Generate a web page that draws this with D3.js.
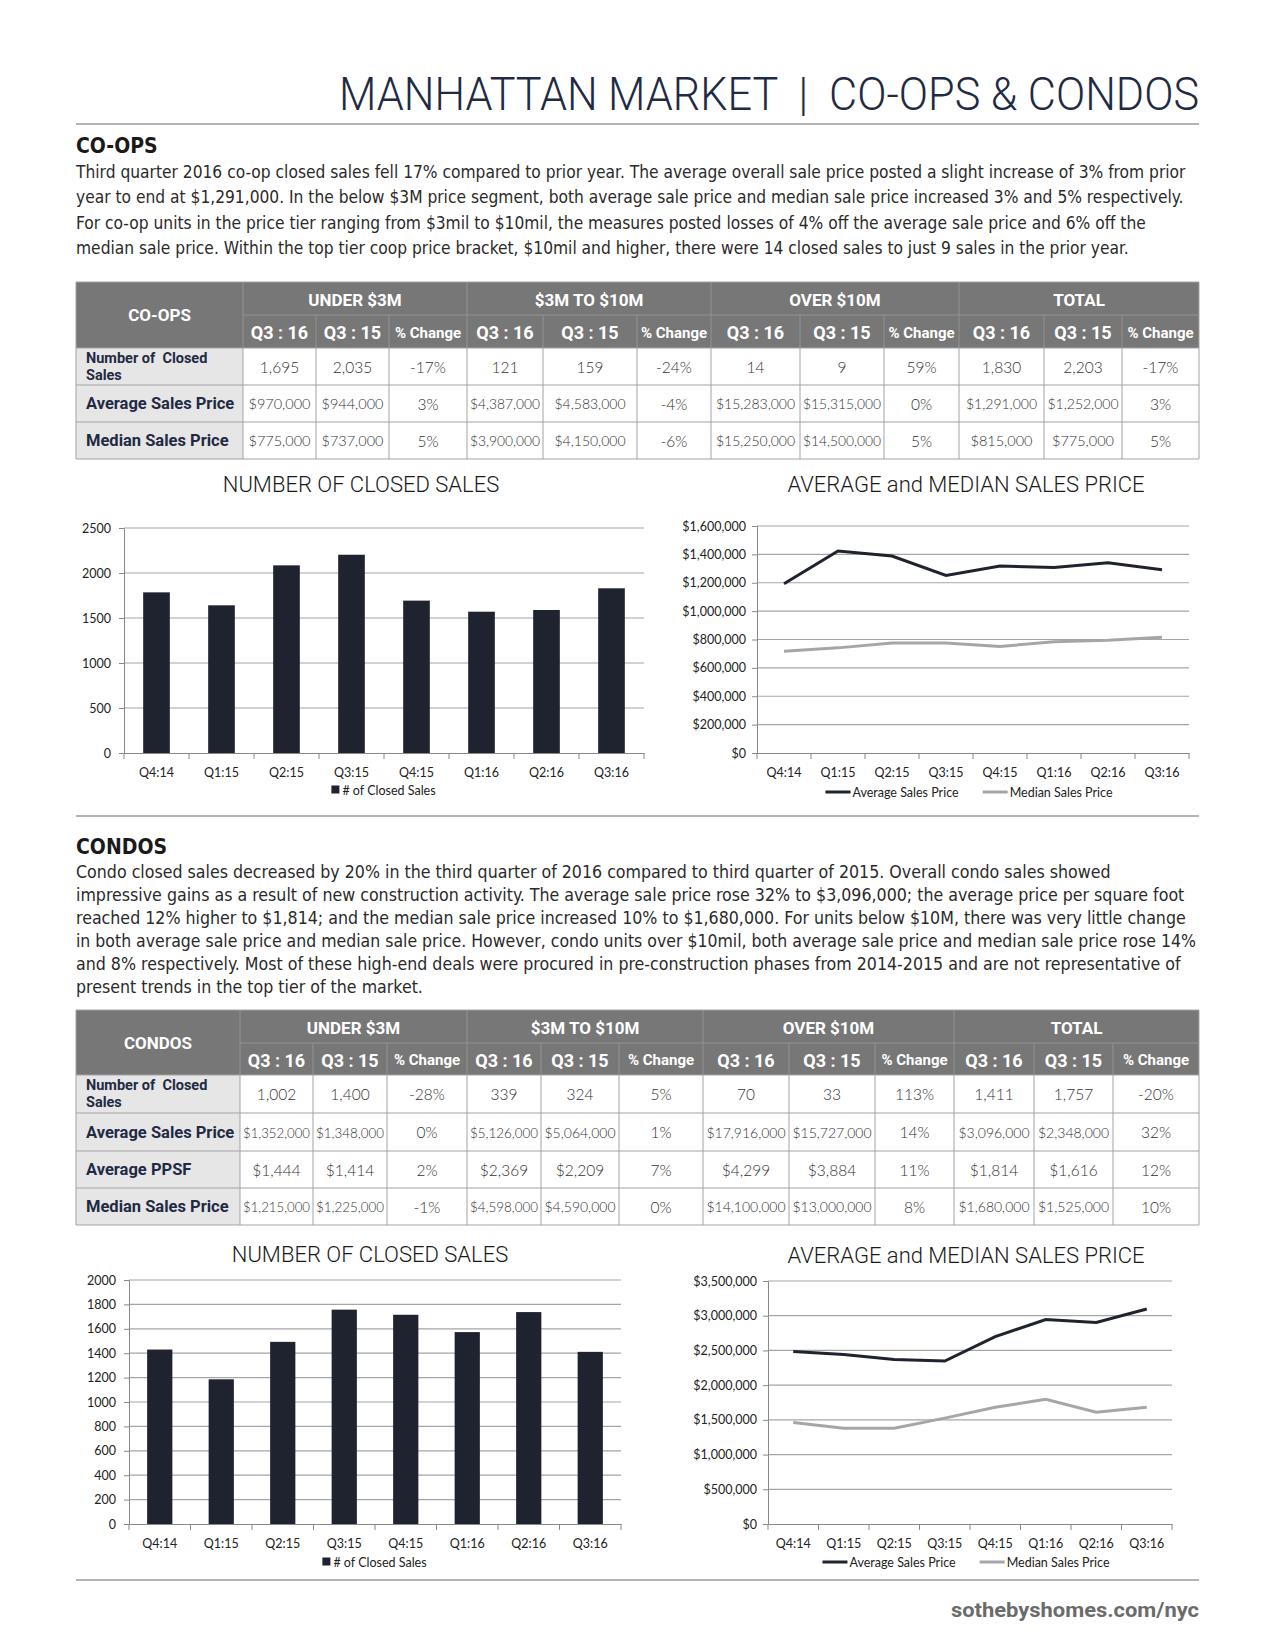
<!DOCTYPE html>
<html><head><meta charset="utf-8">
<script src="https://cdn.jsdelivr.net/npm/d3@7"></script>
<style>body{margin:0;background:#fff} svg{display:block}</style>
</head><body><svg id="page" width="1275" height="1650"></svg>
<script>
// ---------------- DATA ----------------
const pageTitle = "MANHATTAN MARKET  |  CO-OPS & CONDOS";
const footerText = "sothebyshomes.com/nyc";
const quarters = ["Q4:14","Q1:15","Q2:15","Q3:15","Q4:15","Q1:16","Q2:16","Q3:16"];

const coopClosedSales = [1785,1641,2085,2203,1693,1570,1589,1830];
const coopAvgPrice    = [1193000,1424000,1388000,1252000,1318000,1308000,1341000,1291000];
const coopMedianPrice = [718000,741000,776000,775000,751000,784000,795000,815000];

const condoClosedSales = [1430,1186,1493,1757,1715,1573,1737,1411];
const condoAvgPrice    = [2483000,2440000,2369000,2348000,2698000,2946000,2904000,3096000];
const condoMedianPrice = [1461000,1380000,1380000,1525000,1681000,1796000,1609000,1680000];

const coopBarTicks   = [0,500,1000,1500,2000,2500];
const coopPriceTicks = [0,200000,400000,600000,800000,1000000,1200000,1400000,1600000];
const condoBarTicks  = [0,200,400,600,800,1000,1200,1400,1600,1800,2000];
const condoPriceTicks= [0,500000,1000000,1500000,2000000,2500000,3000000,3500000];

const barChartTitle  = "NUMBER OF CLOSED SALES";
const lineChartTitle = "AVERAGE and MEDIAN SALES PRICE";
const barLegend      = "# of Closed Sales";
const lineLegend     = ["Average Sales Price","Median Sales Price"];

const tableGroups   = ["UNDER $3M","$3M TO $10M","OVER $10M","TOTAL"];
const tableSubHeads = ["Q3 : 16","Q3 : 15","% Change"];

const coopHeading = "CO-OPS";
const coopRowLabels = [["Number of  Closed","Sales"],["Average Sales Price"],["Median Sales Price"]];
const coopRows = [
  ["1,695","2,035","-17%","121","159","-24%","14","9","59%","1,830","2,203","-17%"],
  ["$970,000","$944,000","3%","$4,387,000","$4,583,000","-4%","$15,283,000","$15,315,000","0%","$1,291,000","$1,252,000","3%"],
  ["$775,000","$737,000","5%","$3,900,000","$4,150,000","-6%","$15,250,000","$14,500,000","5%","$815,000","$775,000","5%"]
];
const coopParagraph = [
  "Third quarter 2016 co-op closed sales fell 17% compared to prior year. The average overall sale price posted a slight increase of 3% from prior",
  "year to end at $1,291,000.  In the below $3M price segment, both average sale price and median sale price increased 3% and 5% respectively.",
  "For co-op units in the price tier ranging from $3mil to $10mil, the measures posted losses of 4% off the average sale price and 6% off the",
  "median sale price. Within the top tier coop price bracket, $10mil and higher, there were 14 closed sales to just 9 sales in the prior year."
];

const condoHeading = "CONDOS";
const condoRowLabels = [["Number of  Closed","Sales"],["Average Sales Price"],["Average PPSF"],["Median Sales Price"]];
const condoRows = [
  ["1,002","1,400","-28%","339","324","5%","70","33","113%","1,411","1,757","-20%"],
  ["$1,352,000","$1,348,000","0%","$5,126,000","$5,064,000","1%","$17,916,000","$15,727,000","14%","$3,096,000","$2,348,000","32%"],
  ["$1,444","$1,414","2%","$2,369","$2,209","7%","$4,299","$3,884","11%","$1,814","$1,616","12%"],
  ["$1,215,000","$1,225,000","-1%","$4,598,000","$4,590,000","0%","$14,100,000","$13,000,000","8%","$1,680,000","$1,525,000","10%"]
];
const condoParagraph = [
  "Condo closed sales decreased by 20% in the third quarter of 2016 compared to third quarter of 2015. Overall condo sales showed",
  "impressive gains as a result of new construction activity. The average sale price rose 32% to $3,096,000; the average price per square foot",
  "reached 12% higher to $1,814; and the median sale price increased 10% to $1,680,000. For units below $10M, there was very little change",
  "in both average sale price and median sale price. However, condo units over $10mil, both average sale price and median sale price rose 14%",
  "and 8% respectively. Most of these high-end deals were procured in pre-construction phases from 2014-2015 and are not representative of",
  "present trends in the top tier of the market."
];

// ---------------- STYLE / LAYOUT ----------------
const NAVY = "#1f2a44";
const BAR = "#1f2330";
const MED = "#a6a6a6";
const NARROW = "'Liberation Sans Narrow','DejaVu Sans Condensed',Roboto,sans-serif";
const CHARTF = "Lato,'Open Sans',sans-serif";
const TABLEB = "Roboto,'Liberation Sans',sans-serif";
const TABLEV = "Lato,'Open Sans',sans-serif";

const svg = d3.select("#page");

function fitWidth(sel, w){
  sel.attr("textLength", w).attr("lengthAdjust","spacingAndGlyphs");
}
function shrink(sel, maxW){
  sel.each(function(){
    const l = this.getComputedTextLength();
    if (l > maxW) d3.select(this).attr("textLength", maxW).attr("lengthAdjust","spacingAndGlyphs");
  });
}

// ---------- Title ----------
const t = svg.append("text").attr("x",339).attr("y",110)
  .attr("font-family","Roboto,'Open Sans',sans-serif").attr("font-weight",300)
  .attr("font-size",46).attr("fill",NAVY).attr("xml:space","preserve").text(pageTitle);
fitWidth(t, 860);
svg.append("line").attr("x1",76).attr("x2",1199).attr("y1",124).attr("y2",124)
  .attr("stroke","#9a9a9a").attr("stroke-width",1.5);

// ---------- paragraphs ----------
function paragraph(heading, lines, headY, firstY, step, refIdx, refW){
  svg.append("text").attr("x",76).attr("y",headY).attr("font-family",NARROW)
    .attr("font-weight","bold").attr("font-size",21).attr("fill","#1a1a1a").text(heading);
  const g = svg.append("g").attr("font-family",NARROW).attr("fill","#2a2a2a");
  const txt = g.selectAll("text").data(lines).join("text")
    .attr("x",76).attr("y",(d,i)=>firstY+i*step).attr("font-size",18).text(d=>d);
  const nat = txt.nodes()[refIdx].getComputedTextLength();
  const fs = 18*refW/nat;
  txt.attr("font-size",fs);
  shrink(txt, 1120);
}
paragraph(coopHeading, coopParagraph, 153, 178, 25.3, 0, 1110);
paragraph(condoHeading, condoParagraph, 854, 878, 23, 1, 1109);

// ---------- tables ----------
function drawTable(cols, rows, corner, labels, data){
  const g = svg.append("g");
  const hdr = "#777777";
  g.append("rect").attr("x",cols[0]).attr("y",rows[0]).attr("width",cols[13]-cols[0])
    .attr("height",rows[2]-rows[0]).attr("fill",hdr);
  g.append("rect").attr("x",cols[0]).attr("y",rows[2]).attr("width",cols[1]-cols[0])
    .attr("height",rows[rows.length-1]-rows[2]).attr("fill","#e6e6e6");
  const hl = g.append("g").attr("stroke","#939393").attr("stroke-width",1);
  hl.append("line").attr("x1",cols[1]).attr("x2",cols[13]).attr("y1",rows[1]).attr("y2",rows[1]);
  for (let i=1;i<13;i++){
    const y0 = (i-1)%3===0 ? rows[0] : rows[1];
    hl.append("line").attr("x1",cols[i]).attr("x2",cols[i]).attr("y1",y0).attr("y2",rows[2]);
  }
  g.append("text").attr("x",(cols[0]+cols[1])/2).attr("y",(rows[0]+rows[2])/2)
    .attr("text-anchor","middle").attr("dominant-baseline","central")
    .attr("font-family",TABLEB).attr("font-weight","bold").attr("font-size",17)
    .attr("fill","#fff").text(corner);
  tableGroups.forEach((gname,gi)=>{
    const x0 = cols[1+gi*3], x1 = cols[4+gi*3];
    g.append("text").attr("x",(x0+x1)/2).attr("y",(rows[0]+rows[1])/2+1)
      .attr("text-anchor","middle").attr("dominant-baseline","central")
      .attr("font-family",TABLEB).attr("font-weight","bold").attr("font-size",17)
      .attr("fill","#fff").text(gname);
    tableSubHeads.forEach((s,si)=>{
      const a = cols[1+gi*3+si], b = cols[2+gi*3+si];
      const tt = g.append("text").attr("x",(a+b)/2).attr("y",(rows[1]+rows[2])/2+1)
        .attr("text-anchor","middle").attr("dominant-baseline","central")
        .attr("font-family",TABLEB).attr("font-weight","bold")
        .attr("font-size", si===2 ? 15 : 18).attr("fill","#fff").text(s);
      shrink(tt, b-a-3);
    });
  });
  const grid = g.append("g").attr("stroke","#a3a3a3").attr("stroke-width",1).attr("fill","none");
  for (let r=2;r<rows.length;r++){
    grid.append("line").attr("x1",cols[0]).attr("x2",cols[13]).attr("y1",rows[r]).attr("y2",rows[r]);
  }
  for (let i=0;i<14;i++){
    grid.append("line").attr("x1",cols[i]).attr("x2",cols[i]).attr("y1",rows[2]).attr("y2",rows[rows.length-1]);
  }
  grid.append("line").attr("x1",cols[0]).attr("x2",cols[0]).attr("y1",rows[0]).attr("y2",rows[2]);
  grid.append("line").attr("x1",cols[13]).attr("x2",cols[13]).attr("y1",rows[0]).attr("y2",rows[2]);
  grid.append("line").attr("x1",cols[0]).attr("x2",cols[13]).attr("y1",rows[0]).attr("y2",rows[0]);

  labels.forEach((lab,r)=>{
    const yc = (rows[r+2]+rows[r+3])/2;
    lab.forEach((line,li)=>{
      const two = lab.length > 1;
      const off = two ? (li===0 ? -8.5 : 8.5) : 0;
      const tt = g.append("text").attr("x",cols[0]+10).attr("y",yc+off)
        .attr("dominant-baseline","central").attr("font-family",TABLEB)
        .attr("font-weight","bold").attr("font-size", two ? 14.5 : 16.5).attr("fill",NAVY)
        .attr("xml:space","preserve").text(line);
      shrink(tt, cols[1]-cols[0]-14);
    });
  });
  data.forEach((row,r)=>{
    const yc = (rows[r+2]+rows[r+3])/2;
    row.forEach((v,c)=>{
      const a = cols[c+1], b = cols[c+2];
      const fs = v.length>=10 ? 14 : (v.length>=8 ? 14.5 : 15.5);
      const tt = g.append("text").attr("x",(a+b)/2).attr("y",yc)
        .attr("text-anchor","middle").attr("dominant-baseline","central")
        .attr("font-family",TABLEV).attr("font-weight",300).attr("font-size",fs)
        .attr("fill","#333").text(v);
      shrink(tt, b-a-6);
    });
  });
}
drawTable([76,243,316,389,467,543,637,711,800,884,959,1044,1122,1199],
          [282,315,348,385,422,459], coopHeading, coopRowLabels, coopRows);
drawTable([76,240,313,387,467,541,619,703,789,875,954,1034,1113,1199],
          [1010,1043,1075,1113,1151,1188,1225], condoHeading, condoRowLabels, condoRows);

// ---------- charts ----------
function chartTitle(text, cx, y){
  svg.append("text").attr("x",cx).attr("y",y).attr("text-anchor","middle")
    .attr("font-family","Roboto,'Open Sans',sans-serif").attr("font-weight",300)
    .attr("font-size",22).attr("fill","#1a1a1a").text(text);
}

function axesFrame(g, x, y, ticks, fmt, left, right, top, bottom, labelX, xLabelY){
  g.append("g").selectAll("line").data(ticks.filter(d=>d>0)).join("line")
    .attr("x1",left).attr("x2",right).attr("y1",d=>y(d)).attr("y2",d=>y(d))
    .attr("stroke","#a6a6a6").attr("stroke-width",1.2);
  const ya = g.append("g").attr("transform",`translate(${left},0)`)
    .call(d3.axisLeft(y).tickValues(ticks).tickFormat(fmt).tickSize(5).tickPadding(labelX));
  ya.select(".domain").attr("stroke","#888");
  ya.selectAll(".tick line").attr("stroke","#888");
  ya.selectAll("text").attr("font-family",CHARTF).attr("font-size",12.5).attr("fill","#222");
  const xa = g.append("g").attr("transform",`translate(0,${bottom})`)
    .call(d3.axisBottom(x).tickSize(0).tickPadding(xLabelY));
  xa.select(".domain").attr("stroke","#888").attr("stroke-width",1.2);
  xa.selectAll("text").attr("font-family",CHARTF).attr("font-size",12.5).attr("fill","#222");
  const bounds = x.domain().map(d=>x(d)).concat([x(x.domain()[x.domain().length-1])+x.step()]);
  g.append("g").selectAll("line").data(bounds).join("line")
    .attr("x1",d=>d).attr("x2",d=>d).attr("y1",bottom).attr("y2",bottom+6)
    .attr("stroke","#888");
}

function barChart(values, ticks, box, titleX, titleY, legendY){
  const [left,right,top,bottom] = box;
  chartTitle(barChartTitle, titleX, titleY);
  const g = svg.append("g");
  const x = d3.scaleBand().domain(quarters).range([left,right]).padding(0);
  const y = d3.scaleLinear().domain([0, ticks[ticks.length-1]]).range([bottom,top]);
  axesFrame(g, x, y, ticks, d3.format("d"), left, right, top, bottom, 8, 15);
  const bw = x.bandwidth()*0.41;
  g.append("g").selectAll("rect").data(values).join("rect")
    .attr("x",(d,i)=>x(quarters[i])+x.bandwidth()/2-bw/2).attr("width",bw)
    .attr("y",d=>y(d)).attr("height",d=>bottom-y(d)).attr("fill",BAR);
  const lg = svg.append("g");
  const lt = lg.append("text").attr("y",legendY).attr("dominant-baseline","central")
    .attr("font-family",CHARTF).attr("font-size",12.5).attr("fill","#222").text(barLegend);
  const w = lt.node().getComputedTextLength() + 12;
  const sx = (left+right)/2 - w/2;
  lg.append("rect").attr("x",sx).attr("y",legendY-4.5).attr("width",8).attr("height",8).attr("fill",BAR);
  lt.attr("x",sx+11);
}

function lineChart(avg, med, ticks, box, titleY, legendY){
  const [left,right,top,bottom] = box;
  chartTitle(lineChartTitle, 966, titleY);
  const g = svg.append("g");
  const x = d3.scaleBand().domain(quarters).range([left,right]).padding(0);
  const y = d3.scaleLinear().domain([0, ticks[ticks.length-1]]).range([bottom,top]);
  axesFrame(g, x, y, ticks, d=> "$" + d3.format(",")(d), left, right, top, bottom, 6, 15);
  const line = d3.line().x((d,i)=>x(quarters[i])+x.bandwidth()/2).y(d=>y(d));
  g.append("path").datum(med).attr("d",line).attr("fill","none").attr("stroke",MED).attr("stroke-width",3);
  g.append("path").datum(avg).attr("d",line).attr("fill","none").attr("stroke",BAR).attr("stroke-width",3);
  const lg = svg.append("g");
  const items = [[lineLegend[0],BAR],[lineLegend[1],MED]];
  const texts = items.map(it => lg.append("text").attr("y",legendY).attr("dominant-baseline","central")
      .attr("font-family",CHARTF).attr("font-size",12.5).attr("fill","#222").text(it[0]));
  const widths = texts.map(tn=>tn.node().getComputedTextLength());
  const seg = 25, gap = 24;
  const total = seg*2 + widths[0] + widths[1] + gap + 4;
  let cx = (left+right)/2 - 4 - total/2;
  items.forEach((it,i)=>{
    lg.append("line").attr("x1",cx).attr("x2",cx+seg).attr("y1",legendY).attr("y2",legendY)
      .attr("stroke",it[1]).attr("stroke-width",3);
    texts[i].attr("x",cx+seg+2);
    cx += seg + 2 + widths[i] + gap;
  });
}

barChart(coopClosedSales, coopBarTicks, [124,644,528,753], 361, 492, 790);
lineChart(coopAvgPrice, coopMedianPrice, coopPriceTicks, [757,1189,526,753], 492, 792);

svg.append("line").attr("x1",76).attr("x2",1199).attr("y1",816).attr("y2",816)
  .attr("stroke","#9a9a9a").attr("stroke-width",1.5);

barChart(condoClosedSales, condoBarTicks, [129,621,1280,1524], 370, 1262, 1562);
lineChart(condoAvgPrice, condoMedianPrice, condoPriceTicks, [768,1172,1281,1524], 1263, 1562);

svg.append("line").attr("x1",76).attr("x2",1199).attr("y1",1580).attr("y2",1580)
  .attr("stroke","#9a9a9a").attr("stroke-width",1.5);

const ft = svg.append("text").attr("x",951).attr("y",1617)
  .attr("font-family","Roboto,'Open Sans',sans-serif").attr("font-weight","bold")
  .attr("font-size",20).attr("fill","#6b6b6b").text(footerText);
fitWidth(ft, 248);
</script></body></html>
